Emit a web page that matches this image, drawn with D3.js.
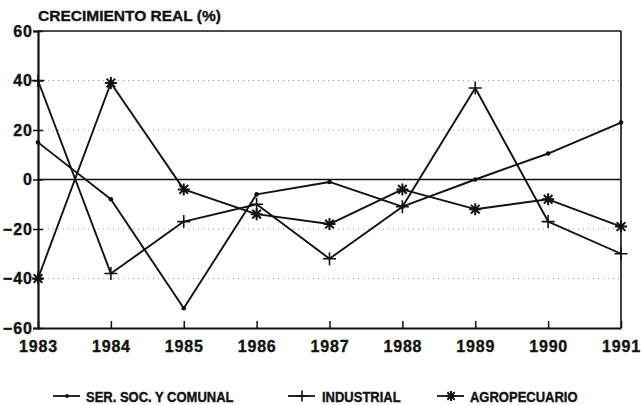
<!DOCTYPE html>
<meta charset="utf-8">
<script src="https://d3js.org/d3.v7.min.js"></script>
<style>
  body { margin: 0; background: #fff; }
  svg text { font-family: "Liberation Sans", Arial, Helvetica, sans-serif; font-weight: bold; fill: #111; stroke: #111; stroke-width: 0.35px; }
</style>
<div id="chart"></div>
<script>
// data
var years = [1983, 1984, 1985, 1986, 1987, 1988, 1989, 1990, 1991];
var serSoc = [15, -8, -52, -6, -1, -11, 0, 10.5, 23];
var industrial = [40, -38, -17, -10, -32, -11, 37, -17, -30];
var agro = [-40, 39, -4, -14, -18, -4, -12, -8, -19];
var yTicks = [-60, -40, -20, 0, 20, 40, 60];
var seriesNames = ["SER. SOC. Y COMUNAL", "INDUSTRIAL", "AGROPECUARIO"];

var W = 641, H = 405;
var margin = { top: 31, right: 20, bottom: 77, left: 38 };
var width = W - margin.left - margin.right,
    height = H - margin.top - margin.bottom;

var svg = d3.select("#chart").append("svg")
    .attr("width", W).attr("height", H);
var g = svg.append("g")
    .attr("transform", "translate(" + margin.left + "," + margin.top + ")");

var x = d3.scaleLinear().domain([1983, 1991]).range([0, width]);
var y = d3.scaleLinear().domain([-60, 60]).range([height, 0]);

// dotted grid
g.selectAll(".grid").data(yTicks.filter(function(d){ return d != 0 && Math.abs(d) != 60; }))
  .enter().append("line")
    .attr("x1", 0).attr("x2", width)
    .attr("y1", function(d){ return y(d); }).attr("y2", function(d){ return y(d); })
    .attr("stroke", "#999").attr("stroke-width", 1).attr("stroke-dasharray", "1,4");

// zero line + frame
g.append("line").attr("x1", 0).attr("x2", width).attr("y1", y(0)).attr("y2", y(0))
  .attr("stroke", "#111").attr("stroke-width", 1.6);
g.append("line").attr("x1", 0).attr("x2", width).attr("y1", 0).attr("y2", 0)
  .attr("stroke", "#111").attr("stroke-width", 1.6);
g.append("line").attr("x1", width).attr("x2", width).attr("y1", 0).attr("y2", height)
  .attr("stroke", "#111").attr("stroke-width", 1.6);

// y axis
var yAxis = g.append("g")
  .call(d3.axisLeft(y).tickValues(yTicks).tickSize(5).tickPadding(4));
yAxis.select(".domain").attr("stroke", "#111").attr("stroke-width", 2.2);
yAxis.selectAll(".tick line").attr("x2", 5).attr("x1", -5).attr("stroke", "#111").attr("stroke-width", 1.5);
yAxis.selectAll(".tick text").style("font-size", "16px").style("letter-spacing", "1px").attr("x", -5);

// x axis
var xAxis = g.append("g")
  .attr("transform", "translate(0," + height + ")")
  .call(d3.axisBottom(x).tickValues(years).tickFormat(d3.format("d")).tickSizeInner(-7).tickSizeOuter(0).tickPadding(5));
xAxis.select(".domain").attr("stroke", "#111").attr("stroke-width", 2.2);
xAxis.selectAll(".tick line").attr("stroke", "#111").attr("stroke-width", 1.5);
xAxis.selectAll(".tick text").style("font-size", "16px").style("letter-spacing", "0.8px").attr("dy", "1.2em");

// title
svg.append("text").attr("x", 38).attr("y", 21).style("font-size", "15.5px")
  .text("CRECIMIENTO REAL (%)");

// markers
function plusPath(s) { return "M" + (-s) + ",0H" + s + "M0," + (-s) + "V" + s; }
function starPath(s) {
  var d = s * 0.72;
  return "M" + (-s) + ",0H" + s + "M0," + (-s) + "V" + s +
    "M" + (-d) + "," + (-d) + "L" + d + "," + d + "M" + (-d) + "," + d + "L" + d + "," + (-d);
}

var line = d3.line()
  .x(function(d, i){ return x(years[i]); })
  .y(function(d){ return y(d); });

var series = [
  { name: seriesNames[0], values: serSoc, mark: "dot" },
  { name: seriesNames[1], values: industrial, mark: "plus" },
  { name: seriesNames[2], values: agro, mark: "star" }
];

function drawMark(sel, mark, k) {
  k = k || 1;
  if (mark == "dot") {
    sel.append("circle").attr("r", 2.3 * k).attr("fill", "#111");
  } else if (mark == "plus") {
    sel.append("path").attr("d", plusPath(6.5 * k)).attr("stroke", "#111").attr("stroke-width", 1.6).attr("fill", "none");
  } else {
    sel.append("path").attr("d", starPath(6 * k)).attr("stroke", "#111").attr("stroke-width", 2).attr("fill", "none");
  }
}

series.forEach(function(s) {
  g.append("path").datum(s.values)
    .attr("d", line)
    .attr("fill", "none").attr("stroke", "#111").attr("stroke-width", 1.9)
    .attr("stroke-linejoin", "round");
  g.selectAll(".m-" + s.mark).data(s.values).enter().append("g")
    .attr("transform", function(d, i){ return "translate(" + x(years[i]) + "," + y(d) + ")"; })
    .each(function(){ drawMark(d3.select(this), s.mark); });
});

// legend
var legendX = [53, 288, 437];
var leg = svg.append("g");
series.forEach(function(s, i) {
  var lg = leg.append("g").attr("transform", "translate(" + legendX[i] + ",396)");
  lg.append("line").attr("x1", 0).attr("x2", 27).attr("y1", 0).attr("y2", 0)
    .attr("stroke", "#111").attr("stroke-width", 1.8);
  drawMark(lg.append("g").attr("transform", "translate(14,0)"), s.mark, 0.85);
  lg.append("text").attr("x", i == 1 ? 34 : 33).attr("y", 0)
    .attr("transform", "scale(1,1.15)").attr("dy", "0.42em")
    .style("font-size", "13px").text(s.name);
});
</script>
